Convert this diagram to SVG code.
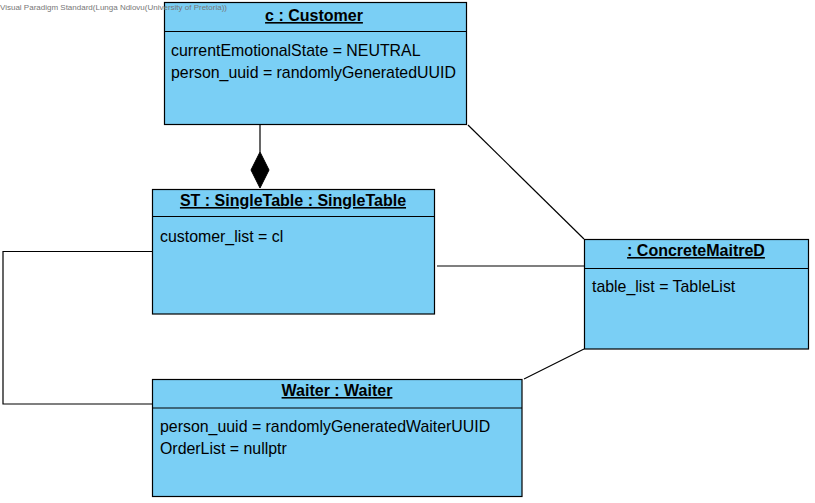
<svg xmlns="http://www.w3.org/2000/svg" width="815" height="503" viewBox="0 0 815 503">
<style>
.box{fill:#7ACFF5;stroke:#000;stroke-width:1.2}
.div{stroke:#000;stroke-width:1.2}
.title{font-family:"Liberation Sans",Arial,sans-serif;font-size:16px;font-weight:bold;text-decoration:underline;text-anchor:middle;fill:#000}
.attr{font-family:"Liberation Sans",Arial,sans-serif;font-size:15.9px;fill:#000}
.conn{fill:none;stroke:#000;stroke-width:1.2}
.wm{font-family:"Liberation Sans",Arial,sans-serif;font-size:8px;fill:#777}
</style>
<rect width="815" height="503" fill="#fff"/>
<g id="connectors">
<line class="conn" x1="260" y1="124" x2="260" y2="152"/>
<polygon points="260,152 269,170 260,188 251,170" fill="#000" stroke="#000"/>
<line class="conn" x1="468" y1="125" x2="584" y2="239"/>
<line class="conn" x1="437" y1="266" x2="584" y2="266"/>
<line class="conn" x1="584" y1="349" x2="524" y2="379"/>
<polyline class="conn" points="152,251.5 3,251.5 3,404 152,404"/>
</g>
<g id="customer">
<rect class="box" x="164.5" y="2.5" width="302" height="122"/>
<line class="div" x1="164.5" y1="31.5" x2="466.5" y2="31.5"/>
<text class="title" x="314" y="21">c : Customer</text>
<text class="attr" x="171" y="56">currentEmotionalState = NEUTRAL</text>
<text class="attr" x="171" y="78">person_uuid = randomlyGeneratedUUID</text>
</g>
<g id="singletable">
<rect class="box" x="152.5" y="189.5" width="282" height="124.5"/>
<line class="div" x1="152.5" y1="216.5" x2="434.5" y2="216.5"/>
<text class="title" x="293" y="206">ST : SingleTable : SingleTable</text>
<text class="attr" x="160" y="242">customer_list = cl</text>
</g>
<g id="maitred">
<rect class="box" x="584.5" y="239.5" width="224" height="109.5"/>
<line class="div" x1="584.5" y1="268.5" x2="808.5" y2="268.5"/>
<text class="title" x="696" y="256">: ConcreteMaitreD</text>
<text class="attr" x="592" y="292">table_list = TableList</text>
</g>
<g id="waiter">
<rect class="box" x="152.5" y="379.5" width="369.5" height="117"/>
<line class="div" x1="152.5" y1="408" x2="522" y2="408"/>
<text class="title" x="337" y="396">Waiter : Waiter</text>
<text class="attr" x="160" y="432">person_uuid = randomlyGeneratedWaiterUUID</text>
<text class="attr" x="160" y="454">OrderList = nullptr</text>
</g>
<text class="wm" x="0" y="10" textLength="227" lengthAdjust="spacingAndGlyphs">Visual Paradigm Standard(Lunga Ndlovu(University of Pretoria))</text>
</svg>
